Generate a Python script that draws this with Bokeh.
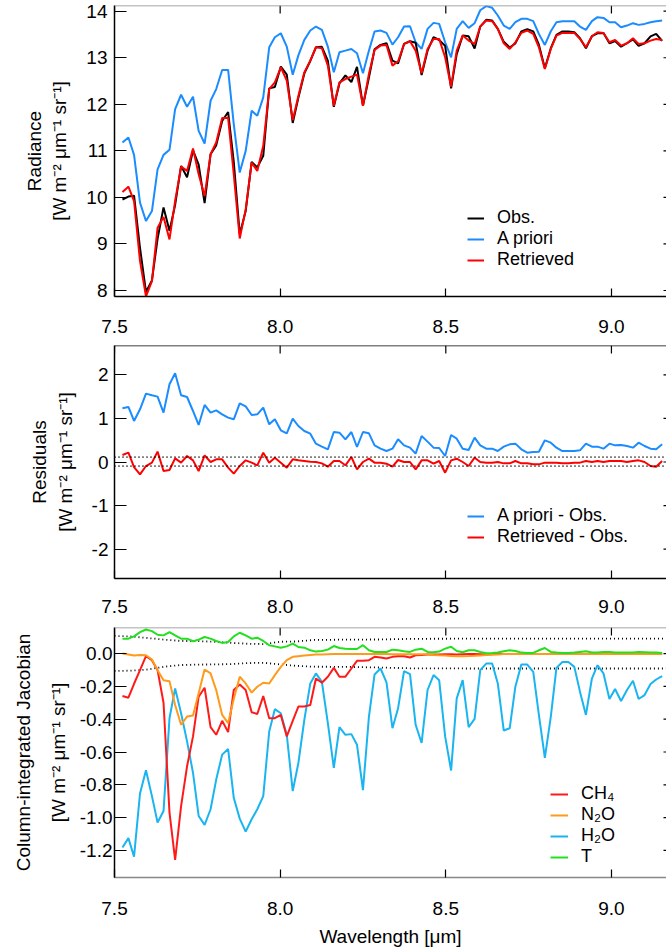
from bokeh.plotting import figure
from bokeh.layouts import column
from bokeh.models import (FixedTicker, NumeralTickFormatter, Legend, LegendItem,
                          Range1d, Span, ColumnDataSource)
from bokeh.embed import file_html
from bokeh.resources import INLINE

FONT = "Liberation Sans"

# ---------------- data ----------------
wavelength = [7.524, 7.542, 7.559, 7.577, 7.595, 7.613, 7.630, 7.648, 7.666, 7.683,
              7.701, 7.719, 7.737, 7.754, 7.772, 7.790, 7.807, 7.825, 7.843, 7.860,
              7.878, 7.896, 7.914, 7.931, 7.949, 7.967, 7.984, 8.002, 8.020, 8.038,
              8.055, 8.073, 8.091, 8.108, 8.126, 8.144, 8.162, 8.179, 8.197, 8.215,
              8.232, 8.250, 8.268, 8.285, 8.303, 8.321, 8.339, 8.356, 8.374, 8.392,
              8.409, 8.427, 8.445, 8.463, 8.480, 8.498, 8.516, 8.533, 8.551, 8.569,
              8.587, 8.604, 8.622, 8.640, 8.657, 8.675, 8.693, 8.710, 8.728, 8.746,
              8.764, 8.781, 8.799, 8.817, 8.834, 8.852, 8.870, 8.888, 8.905, 8.923,
              8.941, 8.958, 8.976, 8.994, 9.011, 9.029, 9.047, 9.065, 9.082, 9.100,
              9.118, 9.135, 9.153]

rad_obs = [9.955, 10.017, 10.037, 8.913, 7.968, 8.215, 9.111, 9.785, 9.281, 9.838,
           10.677, 10.431, 11.011, 10.704, 9.877, 10.927, 11.118, 11.642, 11.833, 10.765,
           9.210, 9.705, 10.763, 10.645, 10.893, 12.342, 12.372, 12.809, 12.637, 11.599,
           12.142, 12.663, 12.930, 13.225, 13.234, 12.937, 11.945, 12.448, 12.619, 12.478,
           12.804, 11.968, 12.574, 13.182, 13.276, 13.313, 12.937, 12.877, 13.296, 13.354,
           13.321, 12.627, 13.151, 13.442, 13.381, 13.254, 12.340, 13.077, 13.476, 13.460,
           13.197, 13.670, 13.814, 13.800, 13.620, 13.342, 13.220, 13.309, 13.564, 13.615,
           13.566, 13.279, 12.773, 13.204, 13.491, 13.564, 13.564, 13.548, 13.419, 13.202,
           13.462, 13.525, 13.533, 13.309, 13.360, 13.238, 13.311, 13.396, 13.258, 13.311,
           13.460, 13.511, 13.360]

rad_apriori = [11.179, 11.286, 10.913, 9.887, 9.492, 9.707, 10.604, 10.913, 11.021, 11.897,
               12.205, 11.947, 12.162, 11.430, 11.157, 12.076, 12.327, 12.737, 12.737, 11.574,
               10.533, 10.999, 11.861, 11.753, 12.148, 13.225, 13.440, 13.526, 13.239, 12.636,
               13.050, 13.383, 13.584, 13.670, 13.598, 13.239, 12.686, 13.117, 13.153, 13.189,
               13.095, 12.665, 13.153, 13.562, 13.584, 13.533, 13.282, 13.440, 13.670, 13.677,
               13.332, 13.189, 13.620, 13.749, 13.727, 13.332, 13.009, 13.620, 13.785, 13.641,
               13.742, 14.020, 14.108, 14.072, 13.907, 13.691, 13.619, 13.763, 13.835, 13.835,
               13.785, 13.512, 13.275, 13.569, 13.763, 13.785, 13.785, 13.785, 13.670, 13.598,
               13.785, 13.871, 13.856, 13.763, 13.763, 13.655, 13.691, 13.742, 13.706, 13.727,
               13.763, 13.785, 13.799]

rad_retrieved = [10.116, 10.231, 9.922, 8.630, 7.876, 8.200, 9.348, 9.578, 9.097, 9.922,
                 10.662, 10.569, 11.049, 10.497, 10.030, 10.927, 11.179, 11.703, 11.703, 10.497,
                 9.118, 9.743, 10.748, 10.569, 11.107, 12.327, 12.471, 12.794, 12.507, 11.660,
                 12.180, 12.686, 12.938, 13.225, 13.203, 12.830, 11.968, 12.471, 12.543, 12.593,
                 12.636, 11.968, 12.650, 13.167, 13.261, 13.275, 12.830, 12.923, 13.296, 13.354,
                 13.153, 12.665, 13.189, 13.404, 13.404, 13.009, 12.378, 13.153, 13.476, 13.368,
                 13.296, 13.670, 13.799, 13.785, 13.620, 13.311, 13.189, 13.332, 13.533, 13.584,
                 13.512, 13.225, 12.758, 13.189, 13.476, 13.533, 13.533, 13.533, 13.404, 13.225,
                 13.462, 13.548, 13.533, 13.332, 13.383, 13.261, 13.311, 13.419, 13.296, 13.311,
                 13.368, 13.404, 13.383]

res_apriori = [1.231, 1.262, 0.941, 1.208, 1.568, 1.530, 1.499, 1.132, 1.782, 2.034,
               1.530, 1.491, 1.170, 0.849, 1.308, 1.132, 1.185, 1.094, 1.017, 0.979,
               1.346, 1.277, 1.078, 1.094, 1.247, 0.864, 0.979, 0.727, 0.658, 0.994,
               0.826, 0.711, 0.650, 0.421, 0.352, 0.291, 0.688, 0.673, 0.520, 0.688,
               0.344, 0.688, 0.658, 0.382, 0.306, 0.252, 0.306, 0.520, 0.382, 0.329,
               0.191, 0.597, 0.467, 0.329, 0.321, 0.138, 0.620, 0.535, 0.306, 0.275,
               0.558, 0.382, 0.306, 0.306, 0.252, 0.352, 0.405, 0.421, 0.291, 0.214,
               0.229, 0.237, 0.497, 0.444, 0.329, 0.252, 0.252, 0.252, 0.268, 0.421,
               0.352, 0.352, 0.306, 0.421, 0.382, 0.390, 0.367, 0.329, 0.444, 0.367,
               0.306, 0.291, 0.405]

res_retrieved = [0.161, 0.214, -0.115, -0.283, -0.092, -0.015, 0.237, -0.207, -0.184, 0.084,
                 -0.015, 0.138, 0.038, -0.207, 0.153, 0.000, 0.061, 0.061, -0.130, -0.268,
                 -0.092, 0.038, -0.015, -0.076, 0.214, -0.015, 0.099, -0.015, -0.130, 0.061,
                 0.038, 0.023, 0.008, 0.000, -0.031, -0.107, 0.023, 0.023, -0.076, 0.115,
                 -0.168, 0.000, 0.076, -0.015, -0.015, -0.038, -0.107, 0.046, 0.000, 0.000,
                 -0.168, 0.038, 0.038, -0.038, 0.023, -0.245, 0.038, 0.076, 0.000, -0.092,
                 0.099, 0.000, -0.015, -0.015, 0.000, -0.031, -0.031, 0.023, -0.031, -0.031,
                 -0.054, -0.054, -0.015, -0.015, -0.015, -0.031, -0.031, -0.015, -0.015, 0.023,
                 0.000, 0.023, 0.000, 0.023, 0.023, 0.023, 0.000, 0.023, 0.038, 0.000,
                 -0.092, -0.107, 0.023]

res_noise_upper = 0.11
res_noise_lower = -0.095

jac_ch4 = [-0.259, -0.269, -0.184, -0.101, -0.016, -0.040, -0.101, -0.300, -0.970, -1.257,
           -0.930, -0.687, -0.505, -0.263, -0.208, -0.448, -0.495, -0.410, -0.479, -0.222,
           -0.188, -0.222, -0.358, -0.368, -0.259, -0.394, -0.394, -0.374, -0.505, -0.410,
           -0.323, -0.323, -0.313, -0.152, -0.178, -0.141, -0.087, -0.141, -0.141, -0.091,
           -0.044, -0.044, -0.040, -0.020, -0.024, -0.030, -0.020, -0.016, -0.016, -0.024,
           -0.010, -0.008, -0.006, -0.006, -0.005, -0.004, -0.004, -0.006, -0.004, -0.003,
           -0.003, -0.004, -0.005, -0.003, -0.002, -0.002, -0.002, -0.002, -0.002, -0.002,
           -0.002, -0.002, -0.002, -0.002, -0.002, -0.002, -0.002, -0.002, -0.002, -0.002,
           -0.002, -0.002, -0.002, -0.002, -0.002, -0.002, -0.002, -0.002, -0.002, -0.002,
           -0.002, -0.002, -0.002]

jac_n2o = [0.000, -0.006, -0.012, -0.008, -0.010, -0.036, -0.101, -0.162, -0.168, -0.313,
           -0.434, -0.384, -0.378, -0.242, -0.097, -0.121, -0.222, -0.374, -0.424, -0.277,
           -0.141, -0.182, -0.238, -0.202, -0.178, -0.182, -0.131, -0.081, -0.040, -0.020,
           -0.016, -0.012, -0.008, -0.006, -0.005, -0.004, -0.003, -0.003, -0.003, -0.003,
           -0.003, -0.003, -0.003, -0.003, -0.003, -0.003, -0.004, -0.004, -0.004, -0.004,
           -0.004, -0.004, -0.004, -0.008, -0.010, -0.012, -0.014, -0.016, -0.016, -0.015,
           -0.013, -0.011, -0.009, -0.007, -0.005, -0.003, -0.003, -0.003, -0.003, -0.003,
           -0.003, -0.003, -0.003, -0.003, -0.003, -0.003, -0.003, -0.002, -0.002, -0.002,
           -0.002, -0.002, -0.002, -0.002, -0.002, -0.002, -0.002, -0.002, -0.002, -0.002,
           -0.002, -0.002, -0.002]

jac_h2o = [-1.182, -1.125, -1.238, -0.853, -0.711, -0.869, -1.030, -0.960, -0.394, -0.212,
           -0.364, -0.535, -0.727, -0.990, -1.044, -0.949, -0.768, -0.616, -0.582, -0.879,
           -1.006, -1.085, -1.010, -0.949, -0.869, -0.475, -0.339, -0.364, -0.495, -0.838,
           -0.667, -0.404, -0.182, -0.121, -0.172, -0.424, -0.697, -0.448, -0.495, -0.491,
           -0.556, -0.832, -0.384, -0.127, -0.091, -0.176, -0.455, -0.333, -0.107, -0.125,
           -0.434, -0.545, -0.222, -0.131, -0.162, -0.505, -0.713, -0.273, -0.162, -0.448,
           -0.398, -0.101, -0.061, -0.061, -0.182, -0.469, -0.455, -0.202, -0.067, -0.067,
           -0.111, -0.374, -0.636, -0.384, -0.087, -0.051, -0.051, -0.081, -0.232, -0.374,
           -0.152, -0.071, -0.121, -0.277, -0.216, -0.289, -0.222, -0.166, -0.277, -0.253,
           -0.186, -0.158, -0.137]

jac_t = [0.091, 0.091, 0.105, 0.131, 0.147, 0.137, 0.115, 0.111, 0.131, 0.111,
         0.091, 0.091, 0.075, 0.085, 0.101, 0.091, 0.077, 0.065, 0.071, 0.105,
         0.127, 0.111, 0.091, 0.097, 0.077, 0.051, 0.044, 0.036, 0.044, 0.061,
         0.040, 0.036, 0.020, 0.012, 0.016, 0.024, 0.046, 0.034, 0.030, 0.028,
         0.028, 0.051, 0.020, 0.010, 0.010, 0.010, 0.024, 0.020, 0.014, 0.010,
         0.024, 0.030, 0.010, 0.008, 0.012, 0.030, 0.042, 0.016, 0.008, 0.020,
         0.020, 0.010, 0.002, 0.004, 0.006, 0.014, 0.020, 0.016, 0.006, 0.004,
         0.004, 0.020, 0.034, 0.010, 0.006, 0.004, 0.004, 0.006, 0.010, 0.014,
         0.006, 0.006, 0.010, 0.010, 0.006, 0.006, 0.006, 0.006, 0.010, 0.008,
         0.006, 0.006, 0.004]

noise_wl = [7.50, 7.55, 7.60, 7.65, 7.70, 7.75, 7.80, 7.85, 7.90, 7.95,
            8.00, 8.05, 8.10, 8.20, 8.30, 8.40, 8.60, 8.80, 9.00, 9.17]
noise_upper = [0.108, 0.104, 0.095, 0.085, 0.077, 0.076, 0.072, 0.066, 0.060, 0.058,
               0.072, 0.074, 0.083, 0.085, 0.086, 0.090, 0.091, 0.091, 0.091, 0.091]
noise_lower = [-0.106, -0.104, -0.097, -0.080, -0.070, -0.067, -0.066, -0.064, -0.058, -0.056,
               -0.066, -0.075, -0.080, -0.081, -0.085, -0.090, -0.091, -0.091, -0.091, -0.091]

x_ticks = [7.5, 8.0, 8.5, 9.0]
rad_ticks = [8, 9, 10, 11, 12, 13, 14]
res_ticks = [-2, -1, 0, 1, 2]
jac_ticks = [-1.2, -1.0, -0.8, -0.6, -0.4, -0.2, 0.0]

# ---------------- styling ----------------
C_OBS = "#000000"
C_APRIORI = "#1a8cff"
C_RET = "#ff0000"
C_CH4 = "#ff1a1a"
C_N2O = "#ff9a1a"
C_H2O = "#1ab4f0"
C_T = "#22e01e"
LW = 2

W = 666
LEFT = 114
X_RANGE = (7.5, 9.1662)
TICK_FS = "19px"
LABEL_FS = "19px"
LEG_FS = "18px"
UNIT = "[W m\u207b\u00b2 \u03bcm\u207b\u00b9 sr\u207b\u00b9]"


def make_fig(height, yr, top_b, bot_b):
    p = figure(width=W, height=height, x_range=Range1d(*X_RANGE), y_range=Range1d(*yr),
               output_backend="svg", toolbar_location=None,
               min_border_left=LEFT, min_border_right=0,
               min_border_top=top_b, min_border_bottom=bot_b)
    p.xgrid.visible = False
    p.ygrid.visible = False
    p.outline_line_color = None
    p.background_fill_color = "white"
    p.border_fill_color = "white"
    return p


def style_axis(ax, ticks, fmt, tick_in, line_color, standoff):
    ax.ticker = FixedTicker(ticks=ticks)
    ax.formatter = NumeralTickFormatter(format=fmt)
    ax.major_tick_in = tick_in
    ax.major_tick_out = 0
    ax.minor_tick_line_color = None
    ax.major_tick_line_color = "black"
    ax.major_tick_line_width = 1.2
    ax.axis_line_color = line_color
    ax.axis_line_width = 1.5
    ax.major_label_text_font = FONT
    ax.major_label_text_color = "black"
    ax.major_label_text_font_size = TICK_FS
    ax.major_label_standoff = standoff
    ax.axis_label_text_font = FONT
    ax.axis_label_text_font_size = LABEL_FS
    ax.axis_label_text_font_style = "normal"
    ax.axis_label_text_color = "black"


def add_frame(p, frame_h, yr, yticks, yfmt, top_color, bottom_color,
              ytick_standoff, xtick_standoff, ylabel, ylabel_standoff, ylabel_lh=1.2):
    yl = p.yaxis[0]
    style_axis(yl, yticks, yfmt, 12, "black", ytick_standoff)
    yl.axis_label = ylabel
    yl.axis_label_standoff = ylabel_standoff
    yl.axis_label_text_line_height = ylabel_lh
    xb = p.xaxis[0]
    style_axis(xb, x_ticks, "0.0", 8, bottom_color, xtick_standoff)
    # top border line
    p.add_layout(Span(location=yr[1], dimension="width", line_color=top_color,
                      line_width=1.5))
    # top / right inward tick marks, derived from the tick lists and ranges
    ppu_y = frame_h / (yr[1] - yr[0])
    ppu_x = (W - LEFT) / (X_RANGE[1] - X_RANGE[0])
    p.segment(x0=x_ticks, x1=x_ticks, y0=[yr[1]] * len(x_ticks),
              y1=[yr[1] - 8 / ppu_y] * len(x_ticks), line_color="black", line_width=1.2)
    p.segment(x0=[X_RANGE[1] - 3 / ppu_x] * len(yticks), x1=[X_RANGE[1]] * len(yticks),
              y0=yticks, y1=yticks, line_color="black", line_width=1.2)
    return xb


def make_legend(p, items, loc, glyph_w=17):
    leg = Legend(items=items, location=loc, padding=0, margin=0, spacing=0,
                 label_height=20, glyph_height=20, glyph_width=glyph_w,
                 label_standoff=13, border_line_color=None,
                 background_fill_alpha=0, label_text_font=FONT,
                 label_text_font_size=LEG_FS, label_text_color="black")
    p.add_layout(leg)


src = ColumnDataSource(dict(wl=wavelength, obs=rad_obs, apr=rad_apriori, ret=rad_retrieved,
                            rapr=res_apriori, rret=res_retrieved,
                            ch4=jac_ch4, n2o=jac_n2o, h2o=jac_h2o, t=jac_t))
nsrc = ColumnDataSource(dict(wl=noise_wl, up=noise_upper, lo=noise_lower))

# ---------------- panel 1: radiance ----------------
Y1 = (7.871, 14.122)
p1 = make_fig(340, Y1, 5, 44)
add_frame(p1, 291, Y1, rad_ticks, "0", "#888888", "black", 7, 23,
          "Radiance\n" + UNIT, 13)
r_apr = p1.line("wl", "apr", source=src, line_color=C_APRIORI, line_width=LW)
r_obs = p1.line("wl", "obs", source=src, line_color=C_OBS, line_width=LW)
r_ret = p1.line("wl", "ret", source=src, line_color=C_RET, line_width=LW)
make_legend(p1, [LegendItem(label="Obs.", renderers=[r_obs]),
                 LegendItem(label="A priori", renderers=[r_apr]),
                 LegendItem(label="Retrieved", renderers=[r_ret])], (353, 26))

# ---------------- panel 2: residuals ----------------
Y2 = (-2.672, 2.672)
p2 = make_fig(280, Y2, 5, 42)
add_frame(p2, 233, Y2, res_ticks, "0", "black", "black", 6, 21,
          "Residuals\n" + UNIT, 13)
p2.add_layout(Span(location=res_noise_upper, dimension="width", line_color="black",
                   line_width=1.8, line_dash="1 3"))
p2.add_layout(Span(location=res_noise_lower, dimension="width", line_color="black",
                   line_width=1.8, line_dash="1 3"))
r_ra = p2.line("wl", "rapr", source=src, line_color=C_APRIORI, line_width=LW)
r_rr = p2.line("wl", "rret", source=src, line_color=C_RET, line_width=LW)
make_legend(p2, [LegendItem(label="A priori - Obs.", renderers=[r_ra]),
                 LegendItem(label="Retrieved - Obs.", renderers=[r_rr])], (353, 31))

# ---------------- panel 3: jacobians ----------------
Y3 = (-1.365, 0.159)
p3 = make_fig(329, Y3, 7, 70)
xb3 = add_frame(p3, 252, Y3, jac_ticks, "0.0", "#888888", "#888888", 2, 24,
                "Column-integrated Jacobian\n" + UNIT, 8, 1.65)
xb3.axis_label = "Wavelength [\u03bcm]"
xb3.axis_label_standoff = 8
p3.line("wl", "up", source=nsrc, line_color="black", line_width=1.8, line_dash="1 3")
p3.line("wl", "lo", source=nsrc, line_color="black", line_width=1.8, line_dash="1 3")
r_h2o = p3.line("wl", "h2o", source=src, line_color=C_H2O, line_width=LW)
r_ch4 = p3.line("wl", "ch4", source=src, line_color=C_CH4, line_width=LW)
r_n2o = p3.line("wl", "n2o", source=src, line_color=C_N2O, line_width=LW)
r_t = p3.line("wl", "t", source=src, line_color=C_T, line_width=LW)
make_legend(p3, [LegendItem(label="CH\u2084", renderers=[r_ch4]),
                 LegendItem(label="N\u2082O", renderers=[r_n2o]),
                 LegendItem(label="H\u2082O", renderers=[r_h2o]),
                 LegendItem(label="T", renderers=[r_t])], (436, 10), glyph_w=18)

layout = column(p1, p2, p3, spacing=0)
open("out.html", "w").write(file_html(layout, INLINE))
